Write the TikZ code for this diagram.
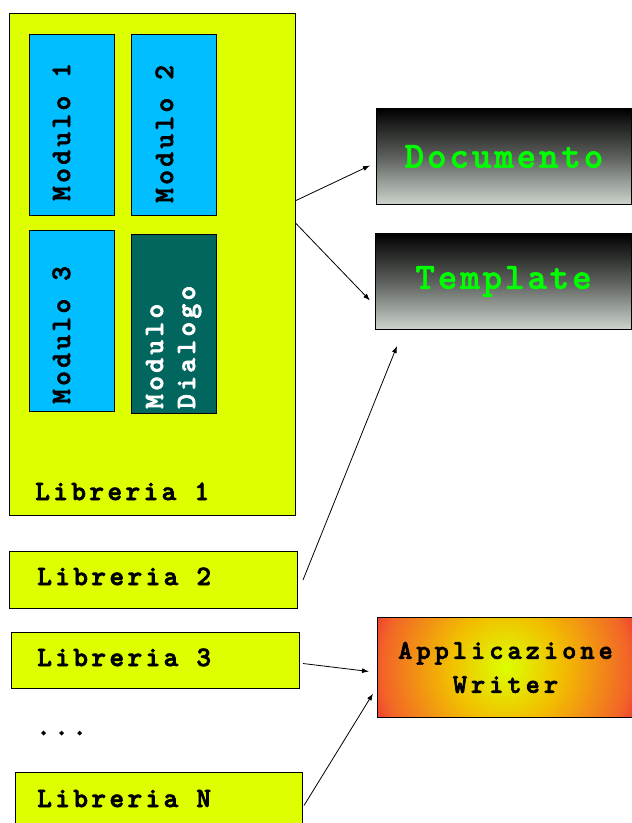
\documentclass[tikz,border=0pt]{standalone}
\usepackage{fontspec}
\newfontfamily\libfont[LetterSpace=12,FakeBold=2.5]{lmmonolt10-bold.otf}
\newfontfamily\docfont[LetterSpace=8,FakeBold=1.5]{lmmonolt10-bold.otf}
\newfontfamily\appfont[LetterSpace=15,FakeBold=2.5]{lmmonolt10-bold.otf}
\usetikzlibrary{arrows.meta}
\definecolor{libyellow}{RGB}{221,255,0}
\definecolor{modblue}{RGB}{0,190,255}
\definecolor{dialteal}{RGB}{0,102,94}
\definecolor{docgreen}{RGB}{0,255,0}
\definecolor{lightbot}{RGB}{205,213,205}
\definecolor{appred}{RGB}{240,60,48}
\definecolor{apporange}{RGB}{242,100,40}
\definecolor{appmid}{RGB}{242,190,0}
\definecolor{appyellow}{RGB}{220,255,0}
\pgfdeclareradialshading{appshade}{\pgfpoint{0bp}{0bp}}{color(0bp)=(appyellow); color(10bp)=(appmid); color(22bp)=(apporange); color(25bp)=(appred); color(50bp)=(appred)}
\tikzset{
  box/.style={draw=black, line width=1pt, inner sep=0pt, anchor=north west},
  libbox/.style={box, fill=libyellow},
  modbox/.style={box, fill=modblue},
  dialbox/.style={box, fill=dialteal},
  darkbox/.style={box, top color=black, bottom color=lightbot, middle color={black!55!lightbot},
     font=\docfont\fontsize{37}{40}\selectfont, text=docgreen},
  appbox/.style={box, path picture={\shade[shading=appshade] (path picture bounding box.center) circle (140pt);},
     font=\appfont\fontsize{27}{34}\selectfont, align=center},
  libtxt/.style={font=\libfont\fontsize{28}{32}\selectfont, inner sep=0pt, anchor=base west},
  modtxt/.style={libtxt, rotate=90},
  arr/.style={-{Latex[length=7pt,width=5pt]}, line width=0.8pt}
}
\begin{document}
\begin{tikzpicture}[x=1pt,y=-1pt]
\clip (0,0) rectangle (632,823);
\fill[white] (0,0) rectangle (632,823);
% Libreria 1 with modules
\node[libbox, minimum width=286pt, minimum height=502pt] (lib1) at (9,13) {};
\node[modbox, minimum width=85pt, minimum height=181pt] (m1) at (29,34) {};
\node[modbox, minimum width=85pt, minimum height=181pt] (m2) at (131,34) {};
\node[modbox, minimum width=85pt, minimum height=181pt] (m3) at (29,230) {};
\node[dialbox, minimum width=85pt, minimum height=179pt] (md) at (131,234) {};
\node[modtxt] (m1t) at (70,201) {Modulo 1};
\node[modtxt] (m2t) at (173,203) {Modulo 2};
\node[modtxt] (m3t) at (70,404) {Modulo 3};
\node[modtxt, text=white] (mdt1) at (163,409) {Modulo};
\node[modtxt, text=white] (mdt2) at (195,409) {Dialogo};
\node[libtxt] (lib1t) at (35,500) {Libreria 1};
% other libraries
\node[libbox, minimum width=288pt, minimum height=57pt] (lib2) at (9,551) {};
\node[libtxt] (lib2t) at (37,585) {Libreria 2};
\node[libbox, minimum width=288pt, minimum height=56pt] (lib3) at (11,632) {};
\node[libtxt] (lib3t) at (37,666) {Libreria 3};
\node[libtxt] (dots) at (36,735) {...};
\node[libbox, minimum width=287pt, minimum height=60pt] (libN) at (15,772) {};
\node[libtxt] (libNt) at (37,807) {Libreria N};
% right boxes
\node[darkbox, minimum width=255pt, minimum height=96pt] (doc) at (376,108) {Documento};
\node[darkbox, minimum width=256pt, minimum height=96pt] (tmpl) at (375,233) {Template};
\node[appbox, minimum width=256pt, minimum height=100pt] (app) at (377,617) {Applicazione\\Writer};
% connectors
\draw[arr] ([yshift=64pt]lib1.east) -- ([yshift=-9pt,xshift=-6pt]doc.west);
\draw[arr] ([yshift=41pt]lib1.east) -- ([yshift=-19pt,xshift=-5pt]tmpl.west);
\draw[arr] ([xshift=5pt]lib2.east) -- ([xshift=22pt,yshift=-16pt]tmpl.south west);
\draw[arr] ([xshift=3pt,yshift=-3pt]lib3.east) -- ([xshift=-8pt,yshift=-4pt]app.west);
\draw[arr] ([xshift=1pt,yshift=-3pt]libN.east) -- ([xshift=-4pt,yshift=-26pt]app.west);
\end{tikzpicture}
\end{document}
